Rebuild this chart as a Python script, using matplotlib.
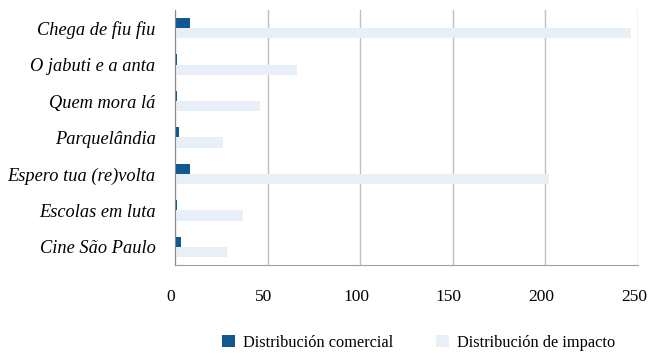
import numpy as np
import matplotlib
matplotlib.use('Agg')
import matplotlib.pyplot as plt
import matplotlib.transforms as mtransforms

# Data
categories = ['Chega de fiu fiu', 'O jabuti e a anta', 'Quem mora lá', 'Parquelândia',
              'Espero tua (re)volta', 'Escolas em luta', 'Cine São Paulo']
comercial = [8, 1, 1, 2, 8, 1, 3]
impacto = [246, 66, 46, 26, 202, 37, 28]
series_names = ['Distribución comercial', 'Distribución de impacto']

DARK = '#115891'
LIGHT = '#E9EFF7'

plt.rcParams['font.family'] = ['Liberation Serif', 'DejaVu Serif']

fig = plt.figure(figsize=(6.49, 3.53), dpi=100)
ax = fig.add_axes([0.2696, 0.249, 0.7134, 0.723])

y = np.arange(len(categories))
h = 0.28
ax.barh(y - h / 2, comercial, height=h, color=DARK, label=series_names[0], zorder=3)
ax.barh(y + h / 2, impacto, height=h, color=LIGHT, label=series_names[1], zorder=3)

ax.set_xlim(0, 250)
ax.set_ylim(len(categories) - 0.5, -0.5)
ax.set_yticks(y)
ax.set_yticklabels(categories, fontsize=13.2, style='italic')
ax.set_xticks([0, 50, 100, 150, 200, 250])
ax.tick_params(axis='x', length=0, pad=17, labelsize=12.5)
ax.tick_params(axis='y', length=0, pad=14)

# x labels sit slightly left of their gridlines in the reference
shift = mtransforms.ScaledTranslation(-4 / 100, 0, fig.dpi_scale_trans)
for lab in ax.get_xticklabels():
    lab.set_transform(lab.get_transform() + shift)

ax.grid(axis='x', color='#C0C0C0', linewidth=1, zorder=0)
for s in ['top', 'right']:
    ax.spines[s].set_visible(False)
ax.spines['left'].set_color('#888888')
ax.spines['bottom'].set_color('#A0A0A0')
ax.spines['left'].set_zorder(4)

fig.legend(loc='lower center', bbox_to_anchor=(0.645, -0.035), ncol=2, frameon=False,
           fontsize=11.8, handlelength=0.8, handleheight=0.8, columnspacing=2.6,
           handletextpad=0.5)

fig.savefig('out.png', dpi=100)
